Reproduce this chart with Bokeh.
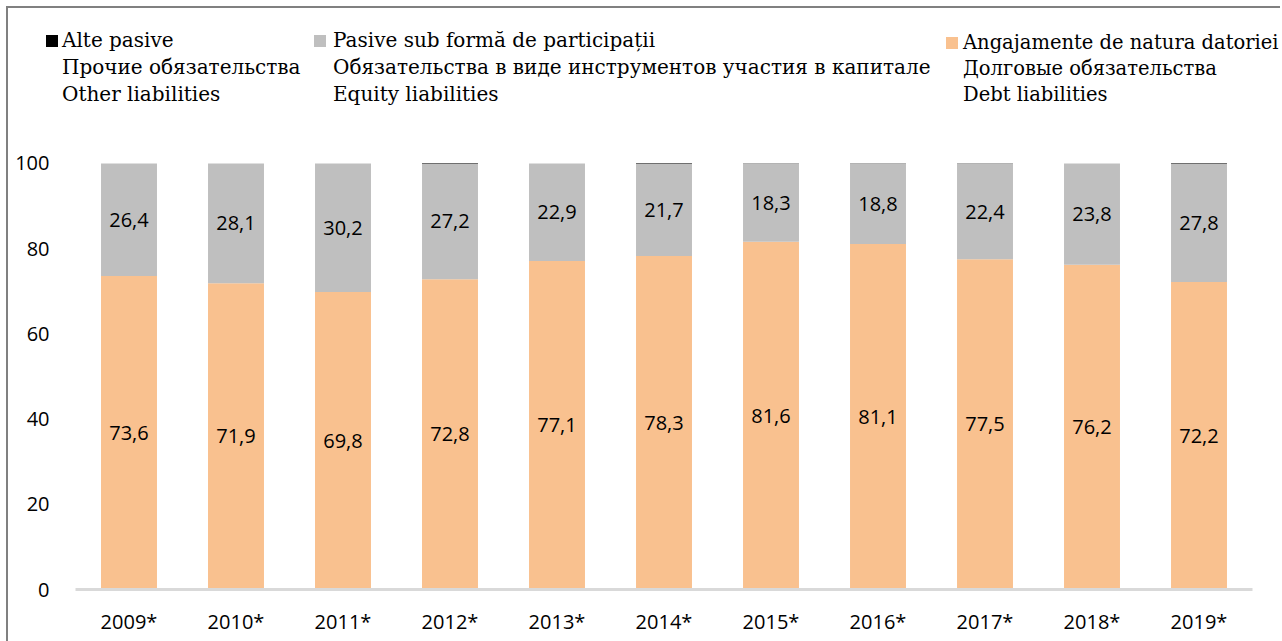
from bokeh.plotting import figure
from bokeh.models import (ColumnDataSource, Range1d, FixedTicker, Legend, LegendItem,
                          LabelSet, CDSView, IndexFilter)
from bokeh.core.properties import value
from bokeh.embed import file_html
from bokeh.resources import INLINE

years = ["2009*", "2010*", "2011*", "2012*", "2013*", "2014*", "2015*", "2016*", "2017*", "2018*", "2019*"]
debt = [73.6, 71.9, 69.8, 72.8, 77.1, 78.3, 81.6, 81.1, 77.5, 76.2, 72.2]
equity = [26.4, 28.1, 30.2, 27.2, 22.9, 21.7, 18.3, 18.8, 22.4, 23.8, 27.8]
other = [0.0, 0.0, 0.0, 0.1, 0.0, 0.1, 0.1, 0.1, 0.1, 0.0, 0.1]

labels_other = ["Alte pasive", "Прочие обязательства", "Other liabilities"]
labels_equity = ["Pasive sub formă de participații",
                 "Обязательства в виде инструментов участия в капитале",
                 "Equity liabilities"]
labels_debt = ["Angajamente de natura datoriei", "Долговые обязательства", "Debt liabilities"]

C_DEBT = "#F9C18F"
C_EQ = "#BFBFBF"
C_OTHER = "#000000"

SANS = "Open Sans"
SERIF = "DejaVu Serif"

src = ColumnDataSource(dict(
    year=years, debt=debt, equity=equity, other=other,
    debt_y=[d / 2 for d in debt],
    eq_y=[d + e / 2 for d, e in zip(debt, equity)],
    debt_txt=[f"{d:.1f}".replace(".", ",") for d in debt],
    eq_txt=[f"{e:.1f}".replace(".", ",") for e in equity],
))

# ---------------- legend strip (its own plot, so the legend is not clipped) ----------------
# the y range lies far above the data, so the proxy bars used for the swatches stay out of view
leg = figure(x_range=years, y_range=Range1d(200, 201), width=1274, height=112,
             output_backend="svg", toolbar_location=None,
             x_axis_type=None, y_axis_type=None,
             min_border_left=0, min_border_right=0, min_border_top=0, min_border_bottom=0)
leg.outline_line_color = None
leg.xgrid.visible = False
leg.ygrid.visible = False
leg.margin = (6, 0, 0, 6)
leg.styles = {"border-left": "2px solid #808080", "border-top": "2px solid #808080"}

one = CDSView(filter=IndexFilter(indices=[0]))
d_other = leg.vbar(x="year", top="other", width=0.5, source=src, view=one,
                   fill_color=C_OTHER, line_color=None)
d_eq = leg.vbar(x="year", top="equity", width=0.5, source=src, view=one,
                fill_color=C_EQ, line_color=None)
d_debt = leg.vbar(x="year", top="debt", width=0.5, source=src, view=one,
                  fill_color=C_DEBT, line_color=None)
d_blank = leg.vbar(x="year", top="debt", width=0.5, source=src, view=one,
                   fill_alpha=0, line_alpha=0)

for labels, rend, xloc, fs, so in [(labels_other, d_other, 36, "20px", 3),
                                   (labels_equity, d_eq, 304, "20px", 6),
                                   (labels_debt, d_debt, 936, "19.5px", 4)]:
    lg = Legend(items=[LegendItem(label=labels[0], renderers=[rend]),
                       LegendItem(label=labels[1], renderers=[d_blank]),
                       LegendItem(label=labels[2], renderers=[d_blank])],
                orientation="vertical", location=(xloc, 14))
    lg.border_line_color = None
    lg.background_fill_alpha = 0
    lg.padding = 0
    lg.margin = 0
    lg.spacing = 3
    lg.glyph_width = 15
    lg.glyph_height = 15
    lg.label_standoff = so
    lg.label_height = 23
    lg.label_text_font = SERIF
    lg.label_text_font_size = fs
    lg.label_text_color = "#000000"
    leg.add_layout(lg, "center")

# ---------------- chart ----------------
p = figure(x_range=years, y_range=Range1d(0, 108.2), width=1274, height=523,
           output_backend="svg", toolbar_location=None,
           min_border_left=67, min_border_right=30, min_border_bottom=52, min_border_top=10)
p.outline_line_color = None
p.xgrid.visible = False
p.ygrid.visible = False
p.x_range.range_padding = 0
p.margin = (0, 0, 0, 6)
p.styles = {"border-left": "2px solid #808080"}

rs = p.vbar_stack(["debt", "equity", "other"], x="year", width=0.523, source=src,
                  color=[C_DEBT, C_EQ, C_OTHER], line_color=None)

p.add_layout(LabelSet(x="year", y="debt_y", text="debt_txt", source=src,
                      text_align="center", text_baseline="middle",
                      text_font=value(SANS), text_font_size="20px", text_color="#000000"))
p.add_layout(LabelSet(x="year", y="eq_y", text="eq_txt", source=src,
                      text_align="center", text_baseline="middle",
                      text_font=value(SANS), text_font_size="20px", text_color="#000000"))

p.yaxis.ticker = FixedTicker(ticks=[0, 20, 40, 60, 80, 100])
p.yaxis.axis_line_color = None
p.yaxis.major_tick_line_color = None
p.yaxis.minor_tick_line_color = None
p.yaxis.major_label_standoff = 20
p.yaxis.major_label_text_font = SANS
p.yaxis.major_label_text_font_size = "20px"
p.yaxis.major_label_text_color = "#000000"

p.xaxis.axis_line_color = "#D9D9D9"
p.xaxis.axis_line_width = 3
p.xaxis.major_tick_line_color = None
p.xaxis.minor_tick_line_color = None
p.xaxis.major_label_standoff = 12
p.xaxis.major_label_text_font = SANS
p.xaxis.major_label_text_font_size = "20px"
p.xaxis.major_label_text_color = "#000000"

open("out.html", "w").write(file_html([leg, p], INLINE))
